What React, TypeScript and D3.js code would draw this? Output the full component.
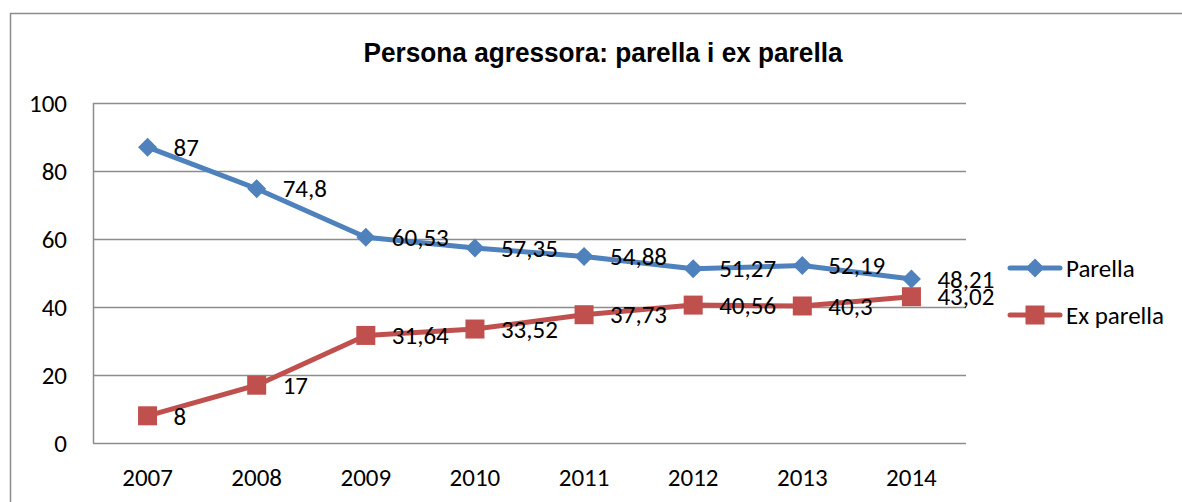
import React, { useEffect, useRef } from "react";
import * as d3 from "d3";

const years = ["2007", "2008", "2009", "2010", "2011", "2012", "2013", "2014"];
const parella = [87, 74.8, 60.53, 57.35, 54.88, 51.27, 52.19, 48.21];
const exParella = [8, 17, 31.64, 33.52, 37.73, 40.56, 40.3, 43.02];
const yTicks = [0, 20, 40, 60, 80, 100];

const w = 1182;
const h = 502;
const m = { top: 103, right: 216, bottom: 59, left: 93 };
const font = "Carlito, 'Open Sans', 'Liberation Sans', sans-serif";

const fmt = (v: number) => String(v).replace(".", ",");

const App = () => {
  const svgRef = useRef<SVGSVGElement | null>(null);

  useEffect(() => {
    const svg = d3.select(svgRef.current);
    svg.selectAll("*").remove();

    const x = d3
      .scaleBand()
      .domain(years)
      .range([m.left, w - m.right]);
    const y = d3
      .scaleLinear()
      .domain([0, 100])
      .range([h - m.bottom, m.top]);
    const cx = (d: string) => x(d)! + x.bandwidth() / 2;

    // outer frame (cropped)
    svg
      .append("path")
      .attr("d", `M10.5,${h} V13.5 H${w}`)
      .attr("fill", "none")
      .attr("stroke", "#8c8c8c")
      .attr("stroke-width", 1.5);

    svg
      .append("text")
      .attr("x", 603)
      .attr("y", 62)
      .attr("text-anchor", "middle")
      .style("font-family", "'Liberation Sans Narrow', 'Arial Narrow', 'Liberation Sans', Arial, sans-serif")
      .style("font-weight", "bold")
      .style("font-size", "27px")
      .attr("textLength", 479)
      .attr("lengthAdjust", "spacingAndGlyphs")
      .text("Persona agressora: parella i ex parella");

    // gridlines
    svg
      .append("g")
      .selectAll("line")
      .data(yTicks)
      .enter()
      .append("line")
      .attr("x1", m.left)
      .attr("x2", w - m.right)
      .attr("y1", (d) => Math.round(y(d)) + 0.5)
      .attr("y2", (d) => Math.round(y(d)) + 0.5)
      .attr("stroke", "#8c8c8c")
      .attr("stroke-width", 1.5);

    svg
      .append("line")
      .attr("x1", m.left + 0.5)
      .attr("x2", m.left + 0.5)
      .attr("y1", y(100))
      .attr("y2", y(0))
      .attr("stroke", "#8c8c8c")
      .attr("stroke-width", 1.5);

    // y tick labels
    svg
      .append("g")
      .selectAll("text")
      .data(yTicks)
      .enter()
      .append("text")
      .attr("x", 67)
      .attr("y", (d) => y(d))
      .attr("dy", "0.35em")
      .attr("text-anchor", "end")
      .style("font-family", font)
      .style("font-size", "25px")
      .text((d) => d);

    // x tick labels
    svg
      .append("g")
      .selectAll("text")
      .data(years)
      .enter()
      .append("text")
      .attr("x", (d) => cx(d))
      .attr("y", 477)
      .attr("dy", "0.35em")
      .attr("text-anchor", "middle")
      .style("font-family", font)
      .style("font-size", "25px")
      .text((d) => d);

    const series = [
      { name: "Parella", values: parella, color: "#4f81bd", marker: "diamond" },
      { name: "Ex parella", values: exParella, color: "#c0504d", marker: "square" },
    ];

    const line = d3
      .line<number>()
      .x((d, i) => cx(years[i]))
      .y((d) => y(d));

    const drawMarker = (g, kind: string, px: number, py: number, color: string) => {
      if (kind === "diamond") {
        g.append("path")
          .attr("d", `M${px},${py - 9.5} L${px + 9.5},${py} L${px},${py + 9.5} L${px - 9.5},${py} Z`)
          .attr("fill", color);
      } else {
        g.append("rect")
          .attr("x", px - 9.5)
          .attr("y", py - 9.5)
          .attr("width", 19)
          .attr("height", 19)
          .attr("fill", color);
      }
    };

    series.forEach((s) => {
      const g = svg.append("g");
      g.append("path")
        .datum(s.values)
        .attr("d", line)
        .attr("fill", "none")
        .attr("stroke", s.color)
        .attr("stroke-width", 5)
        .attr("stroke-linejoin", "round");
      s.values.forEach((v, i) => drawMarker(g, s.marker, cx(years[i]), y(v), s.color));
    });

    // data labels
    series.forEach((s) => {
      svg
        .append("g")
        .selectAll("text")
        .data(s.values)
        .enter()
        .append("text")
        .attr("x", (d, i) => cx(years[i]) + 26)
        .attr("y", (d) => y(d))
        .attr("dy", "0.35em")
        .style("font-family", font)
        .style("font-size", "25px")
        .text((d) => fmt(d));
    });

    // legend
    series.forEach((s, i) => {
      const ly = 268 + i * 47;
      const g = svg.append("g");
      g.append("line")
        .attr("x1", 1010)
        .attr("x2", 1060)
        .attr("y1", ly)
        .attr("y2", ly)
        .attr("stroke", s.color)
        .attr("stroke-width", 5)
        .attr("stroke-linecap", "round");
      drawMarker(g, s.marker, 1035, ly, s.color);
      g.append("text")
        .attr("x", 1066)
        .attr("y", ly)
        .attr("dy", "0.35em")
        .style("font-family", font)
        .style("font-size", "25px")
        .text(s.name);
    });
  }, []);

  return (
    <svg
      ref={svgRef}
      width={w}
      height={h}
      style={{ position: "absolute", left: 0, top: 0, background: "#fff" }}
    />
  );
};

export default App;
